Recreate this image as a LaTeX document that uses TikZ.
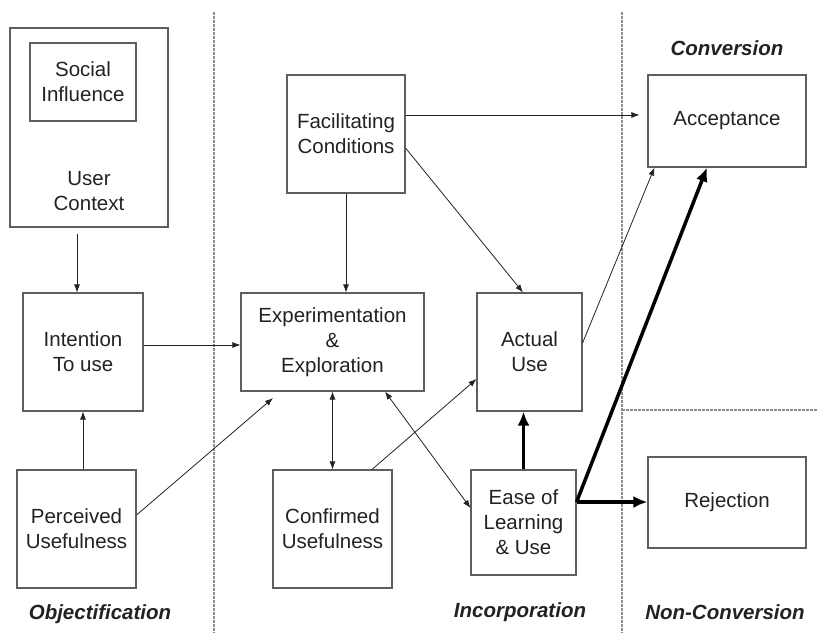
\documentclass[tikz,border=0pt]{standalone}
\usepackage{fontspec}
\setmainfont{Liberation Sans}
\usetikzlibrary{arrows.meta, positioning, calc}
\definecolor{boxgray}{HTML}{5E5E5E}
\definecolor{inkgray}{HTML}{222222}
\tikzset{
    stage/.style args={#1 #2}{
        draw=boxgray, line width=1.1pt, inner sep=0pt, align=center,
        minimum width=#1, minimum height=#2, text=inkgray,
        font=\fontsize{20.5}{25}\selectfont
    },
    label/.style={inner sep=0pt, align=center, text=inkgray,
        font=\fontsize{20.5}{25}\selectfont},
    phase/.style={inner sep=0pt, text=inkgray,
        font=\fontsize{20.5}{25}\selectfont\bfseries\itshape},
    arr/.style={draw=inkgray, line width=0.8pt, -{Latex[length=8pt,width=6pt]}},
    dblarr/.style={draw=inkgray, line width=0.8pt, {Latex[length=8pt,width=6pt]}-{Latex[length=8pt,width=6pt]}},
    heavy/.style={draw=black, line width=3.5pt, -{Latex[length=14pt,width=12pt]}},
    divider/.style={draw=gray!90, line width=1.1pt, dash pattern=on 2.5pt off 1.5pt}
}
\begin{document}
\begin{tikzpicture}[x=1pt, y=-1pt]
    \useasboundingbox (0,0) rectangle (817,633);
    % phase borders
    \draw[divider] (214,12) -- (214,633);
    \draw[divider] (622,12) -- (622,633);
    \draw[divider] (622,410) -- (817,410);
    % stages
    \node[stage={158pt 199pt}] (ctx) at (89,127.5) {};
    \node[stage={106pt 78pt}] (soc) at (83,82) {Social\\Influence};
    \node[label] (ctxtxt) at (89,191) {User\\Context};
    \node[stage={120pt 118pt}] (int) at (83,352) {Intention\\To use};
    \node[stage={119pt 118pt}] (per) at (76.5,529) {Perceived\\Usefulness};
    \node[stage={118pt 118pt}] (fac) at (346,134) {Facilitating\\Conditions};
    \node[stage={183pt 98pt}] (exp) at (332.5,342) {Experimentation\\\&\\Exploration};
    \node[stage={119pt 118pt}] (con) at (332.5,529) {Confirmed\\Usefulness};
    \node[stage={105pt 118pt}] (act) at (529.5,352) {Actual\\Use};
    \node[stage={105pt 105pt}] (eas) at (523.5,522.5) {Ease of\\Learning\\\& Use};
    \node[stage={158pt 92pt}] (acc) at (727,121) {Acceptance};
    \node[stage={158pt 91pt}] (rej) at (727,502.5) {Rejection};
    % phase names
    \node[phase] (conv) at (727,48) {Conversion};
    \node[phase] (obj) at (100,614) {Objectification};
    \node[phase] (inc) at (520,612) {Incorporation};
    \node[phase] (nonc) at (725,612) {Non-Conversion};
    % links
    \coordinate (pe) at (273,398);
    \coordinate (ep) at ([yshift=20.5pt]eas.east);
    \draw[arr] ([xshift=-12pt,yshift=-6pt]ctx.south) -- ([xshift=-6pt]int.north);
    \draw[arr] ([xshift=6.5pt]per.north) -- (int.south);
    \draw[arr] ([yshift=7pt]int.east) -- ([yshift=-3pt]exp.west);
    \draw[arr] ([yshift=14pt]per.east) -- (pe);
    \draw[arr] (fac.south) -- (fac.south |- exp.north);
    \draw[dblarr] (exp.south) -- (con.north);
    \draw[arr] ([xshift=39.5pt]con.north) -- ([yshift=-27pt]act.west);
    \draw[dblarr] ([xshift=52.5pt]exp.south) -- ([yshift=14.5pt]eas.west);
    \draw[arr] ([yshift=19pt]fac.east) -- ([xshift=-8pt,yshift=6pt]acc.west);
    \draw[arr] ([yshift=-14pt]fac.east) -- ([xshift=-6.5pt]act.north);
    \draw[arr] ([yshift=9pt]act.east) -- ([xshift=7pt]acc.south west);
    \draw[heavy] (eas.north) -- (eas.north |- act.south);
    \draw[heavy] (ep) -- ([xshift=-20pt]acc.south);
    \draw[heavy] (ep) -- (ep -| rej.west);
\end{tikzpicture}
\end{document}
